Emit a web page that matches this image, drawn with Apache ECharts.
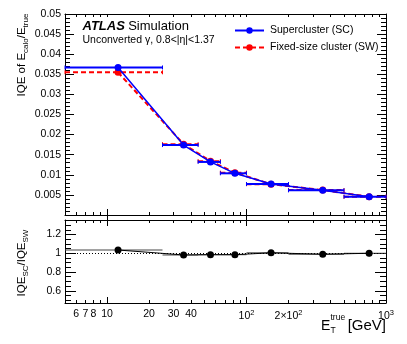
<!DOCTYPE html>
<html><head><meta charset="utf-8">
<script src="https://cdn.jsdelivr.net/npm/echarts@6/dist/echarts.min.js"></script>
<style>html,body{margin:0;padding:0;background:#fff}#c{width:407px;height:344px}</style>
</head><body><div id="c"></div>
<script>
// ---- data ----
const binLow  = [5, 25, 45, 65, 100, 200, 500];
const binHigh = [25, 45, 65, 100, 200, 500, 1000];
const ptE     = [12, 35.4, 55.2, 82.6, 150, 352, 757];
const iqeSC   = [0.0367, 0.0174, 0.0132, 0.01037, 0.0077, 0.00614, 0.00455];
const iqeSW   = [0.0355, 0.01762, 0.0134, 0.01053, 0.00767, 0.0062, 0.00455];
const ratio   = [1.035, 0.982, 0.985, 0.985, 1.005, 0.99, 1.0];
const ratioErr= [0.006, 0.006, 0.006, 0.006, 0.008, 0.01, 0.035];
const xLabelTicks = [6, 7, 8, 10, 20, 30, 40, 100, 200, 1000];
const xMajorTicks = [10, 100, 1000];
const xMinorTicks = [5,6,7,8,9,10,20,30,40,50,60,70,80,90,100,200,300,400,500,600,700,800,900,1000];
const yTopLabels = [0.005,0.01,0.015,0.02,0.025,0.03,0.035,0.04,0.045,0.05];
const yRatioLabels = [0.6, 0.8, 1, 1.2];
const yRatioMinor = [0.5,0.55,0.6,0.65,0.7,0.75,0.8,0.85,0.9,0.95,1,1.05,1.1,1.15,1.2,1.25,1.3,1.35];

const FONT = 'Liberation Sans';
const chart = echarts.init(document.getElementById('c'), null, {renderer:'canvas'});

const grids = [
  {left: 65, right: 21, top: 14, height: 201},
  {left: 65, right: 21, top: 220, height: 83}
];

function xAxisSet(g, withLabels, tickScale) {
  const base = {type:'log', logBase:10, gridIndex:g, min:5, max:1000, splitLine:{show:false}};
  const lineStyle = {color:'#000', width:1};
  return [
    Object.assign({}, base, {position:'bottom', axisLine:{show:true, onZero:false, lineStyle},
      axisTick:{show:true, inside:true, length:3*tickScale, customValues:xMinorTicks, lineStyle},
      axisLabel: withLabels ? {show:true, customValues:xLabelTicks, fontFamily:FONT, fontSize:10.5, color:'#000', margin:6,
        formatter: v => { v = Math.round(v);
          if (v===100) return '10{s|2}'; if (v===200) return '2×10{s|2}'; if (v===1000) return '10{s|3}'; return String(v); },
        rich:{s:{fontSize:7.5, fontFamily:FONT, verticalAlign:'top', padding:[0,0,6,0]}}} : {show:false}}),
    Object.assign({}, base, {position:'bottom', axisLine:{show:false},
      axisTick:{show:true, inside:true, length:6*tickScale, customValues:xMajorTicks, lineStyle}, axisLabel:{show:false}}),
    Object.assign({}, base, {position:'top', axisLine:{show:true, onZero:false, lineStyle},
      axisTick:{show:true, inside:true, length:3*tickScale, customValues:xMinorTicks, lineStyle}, axisLabel:{show:false}}),
    Object.assign({}, base, {position:'top', axisLine:{show:false},
      axisTick:{show:true, inside:true, length:6*tickScale, customValues:xMajorTicks, lineStyle}, axisLabel:{show:false}})
  ];
}
const xAxes = xAxisSet(0, false, 1).concat(xAxisSet(1, true, 1));

const lineStyleK = {color:'#000', width:1};
const yAxes = [
  {type:'value', gridIndex:0, min:0, max:0.05, interval:0.005, position:'left', splitLine:{show:false},
   axisLine:{show:true, onZero:false, lineStyle:lineStyleK},
   axisTick:{show:true, inside:true, length:9, lineStyle:lineStyleK},
   minorTick:{show:true, splitNumber:5, length:5, lineStyle:lineStyleK},
   axisLabel:{show:true, customValues:yTopLabels, fontFamily:FONT, fontSize:10.5, color:'#000', margin:4,
     formatter: v => String(+v.toFixed(3))}},
  {type:'value', gridIndex:0, min:0, max:0.05, interval:0.005, position:'right', splitLine:{show:false},
   axisLine:{show:true, onZero:false, lineStyle:lineStyleK},
   axisTick:{show:true, inside:true, length:9, lineStyle:lineStyleK},
   minorTick:{show:true, splitNumber:5, length:5, lineStyle:lineStyleK}, axisLabel:{show:false}},
  {type:'value', gridIndex:1, min:0.47, max:1.355, position:'left', splitLine:{show:false},
   axisLine:{show:true, onZero:false, lineStyle:lineStyleK},
   axisTick:{show:true, inside:true, length:11, customValues:yRatioLabels, lineStyle:lineStyleK},
   axisLabel:{show:true, customValues:yRatioLabels, fontFamily:FONT, fontSize:10.5, color:'#000', margin:4,
     formatter: v => String(+v.toFixed(1))}},
  {type:'value', gridIndex:1, min:0.47, max:1.355, position:'left', splitLine:{show:false},
   axisLine:{show:false}, axisTick:{show:true, inside:true, length:6, customValues:yRatioMinor, lineStyle:lineStyleK},
   axisLabel:{show:false}},
  {type:'value', gridIndex:1, min:0.47, max:1.355, position:'right', splitLine:{show:false},
   axisLine:{show:true, onZero:false, lineStyle:lineStyleK},
   axisTick:{show:true, inside:true, length:11, customValues:yRatioLabels, lineStyle:lineStyleK}, axisLabel:{show:false}},
  {type:'value', gridIndex:1, min:0.47, max:1.355, position:'right', splitLine:{show:false},
   axisLine:{show:false}, axisTick:{show:true, inside:true, length:6, customValues:yRatioMinor, lineStyle:lineStyleK},
   axisLabel:{show:false}}
];

function errData(ys, errs) {
  return ptE.map((x, i) => [x, ys[i], binLow[i], binHigh[i], errs ? errs[i] : 0]);
}
function errRender(color, width, dash, cap) {
  return function(params, api) {
    const x = api.value(0), y = api.value(1), lo = api.value(2), hi = api.value(3), e = api.value(4);
    const pL = api.coord([lo, y]), pR = api.coord([hi, y]);
    const style = {stroke: color, lineWidth: width, lineDash: dash || null, fill:null};
    const ch = [{type:'line', shape:{x1:pL[0], y1:pL[1], x2:pR[0], y2:pR[1]}, style}];
    if (cap) {
      ch.push({type:'line', shape:{x1:pL[0], y1:pL[1]-cap, x2:pL[0], y2:pL[1]+cap}, style:{stroke:color, lineWidth:1}});
      ch.push({type:'line', shape:{x1:pR[0], y1:pR[1]-cap, x2:pR[0], y2:pR[1]+cap}, style:{stroke:color, lineWidth:1}});
    }
    if (e > 0) {
      const pT = api.coord([x, y + e]), pB = api.coord([x, y - e]);
      ch.push({type:'line', shape:{x1:pT[0], y1:pT[1], x2:pB[0], y2:pB[1]}, style:{stroke:color, lineWidth:width}});
    }
    return {type:'group', children: ch};
  };
}

const series = [
  {type:'custom', name:'swErr', xAxisIndex:0, yAxisIndex:0, data: errData(iqeSW), encode:{x:[0,2,3], y:[1]},
   renderItem: errRender('#ff0000', 2, [5,3], 2), silent:true, z:2},
  {type:'line', name:'Fixed-size cluster (SW)', xAxisIndex:0, yAxisIndex:0,
   data: ptE.map((x,i)=>[x, iqeSW[i]]), symbol:'circle', symbolSize:7,
   itemStyle:{color:'#ff0000'}, lineStyle:{color:'#ff0000', width:2, type:[5,3]}, z:3},
  {type:'custom', name:'scErr', xAxisIndex:0, yAxisIndex:0, data: errData(iqeSC), encode:{x:[0,2,3], y:[1]},
   renderItem: errRender('#0000ff', 2, null, 2), silent:true, z:4},
  {type:'line', name:'Supercluster (SC)', xAxisIndex:0, yAxisIndex:0,
   data: ptE.map((x,i)=>[x, iqeSC[i]]), symbol:'circle', symbolSize:7,
   itemStyle:{color:'#0000ff'}, lineStyle:{color:'#0000ff', width:1.5}, z:5},
  {type:'custom', name:'ratioErr', xAxisIndex:4, yAxisIndex:2, data: errData(ratio, ratioErr), encode:{x:[0,2,3], y:[1]},
   renderItem: errRender('#444', 1, null, 0), silent:true, z:4},
  {type:'line', name:'ratio', xAxisIndex:4, yAxisIndex:2,
   data: ptE.map((x,i)=>[x, ratio[i]]), symbol:'circle', symbolSize:7,
   itemStyle:{color:'#000'}, lineStyle:{color:'#000', width:1}, z:5,
   markLine:{silent:true, symbol:'none', label:{show:false},
     lineStyle:{color:'#000', width:1, type:[1,2]}, data:[{yAxis:1}]}}
];

chart.setOption({
  animation:false,
  textStyle:{fontFamily:FONT},
  grid: grids,
  xAxis: xAxes,
  yAxis: yAxes,
  legend: {orient:'vertical', left:229, top:20, itemWidth:29, itemHeight:8, itemGap:6,
    data:['Supercluster (SC)', 'Fixed-size cluster (SW)'],
    textStyle:{fontFamily:FONT, fontSize:10.5, color:'#000', padding:[0,0,0,1]}},
  series: series,
  graphic: [
    {type:'text', left:82.5, top:20, style:{text:'{b|ATLAS} {n|Simulation}', rich:{
      b:{fontFamily:FONT, fontSize:13, fontWeight:'bold', fontStyle:'italic', fill:'#000'},
      n:{fontFamily:FONT, fontSize:13, fill:'#000'}}}},
    {type:'text', left:82.5, top:35, style:{text:'Unconverted γ, 0.8<|η|<1.37', fontFamily:FONT, fontSize:10.5, fill:'#000'}},
    {type:'text', x:22, y:55, rotation:Math.PI/2, style:{text:'{m|IQE of E}{s|calo}{m|/E}{s|true}', align:'center', verticalAlign:'middle', rich:{
      m:{fontFamily:FONT, fontSize:11.5, lineHeight:16, verticalAlign:'middle', fill:'#000'},
      s:{fontFamily:FONT, fontSize:8, lineHeight:16, verticalAlign:'bottom', fill:'#000'}}}},
    {type:'text', x:22, y:263, rotation:Math.PI/2, style:{text:'{m|IQE}{s|SC}{m|/IQE}{s|SW}', align:'center', verticalAlign:'middle', rich:{
      m:{fontFamily:FONT, fontSize:11.5, lineHeight:16, verticalAlign:'middle', fill:'#000'},
      s:{fontFamily:FONT, fontSize:8, lineHeight:16, verticalAlign:'bottom', fill:'#000'}}}},
    {type:'text', x:321, y:326, style:{text:'E', fontFamily:FONT, fontSize:14, fill:'#000', verticalAlign:'middle'}},
    {type:'text', x:330.5, y:318, style:{text:'true', fontFamily:FONT, fontSize:8.5, fill:'#000', verticalAlign:'middle'}},
    {type:'text', x:330.5, y:331, style:{text:'T', fontFamily:FONT, fontSize:8.5, fill:'#000', verticalAlign:'middle'}},
    {type:'text', x:386, y:326, style:{text:'[GeV]', fontFamily:FONT, fontSize:15, fill:'#000', align:'right', verticalAlign:'middle'}}
  ]
});
</script></body></html>
